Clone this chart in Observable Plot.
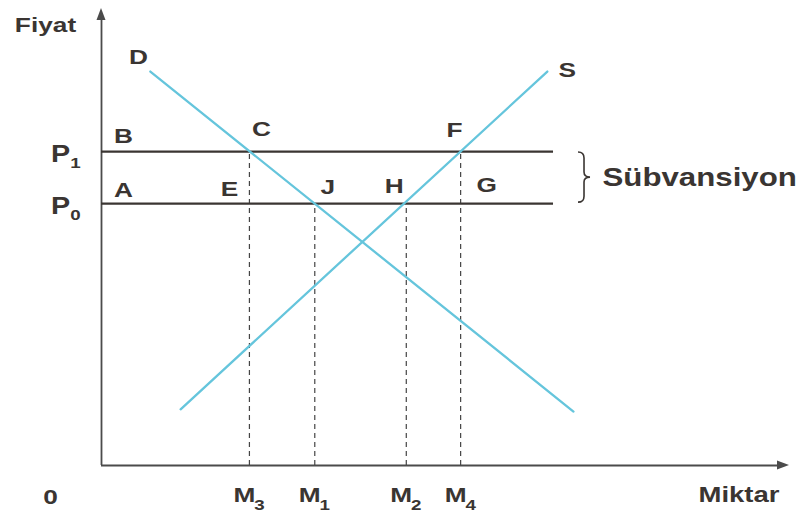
<!DOCTYPE html>
<html>
<head>
<meta charset="utf-8">
<script src="https://cdn.jsdelivr.net/npm/d3@7"></script>
<script src="https://cdn.jsdelivr.net/npm/@observablehq/plot@0.6"></script>
<style>
  html, body { margin: 0; padding: 0; background: #fff; }
  #chart svg { display: block; }
</style>
</head>
<body>
<div id="chart"></div>
<script>
// Price levels: P1 (subsidised producer price) and P0 (market price)
const priceNames = ["P", "P"];
const priceSubs = ["1", "0"];
const priceLevels = [68.7, 57.3];
const priceLineEnd = 65.7;

// Demand (D) and supply (S) lines, end points
const demandX = [7.1, 68.6];
const demandY = [86.2, 11.8];
const supplyX = [11.5, 64.8];
const supplyY = [12.3, 86.2];

// Quantities read at the crossings, with the price each dashed guide rises to
const quantitySubs = ["3", "1", "2", "4"];
const quantityValues = [21.5, 31, 44.3, 52.2];
const quantityPrices = [68.7, 57.3, 57.3, 68.7];

// Point letters and the quantity / price they sit at
const pointNames = ["B", "C", "F", "A", "E", "J", "H", "G"];
const pointX = [0, 21.5, 52.2, 0, 21.5, 31, 44.3, 52.2];
const pointY = [68.7, 68.7, 68.7, 57.3, 57.3, 57.3, 57.3, 57.3];

const axisTitles = ["Fiyat", "Miktar"];
const originLabel = "0";
const bandLabel = "Sübvansiyon";

const ink = "#3a3532";
const axisInk = "#4b4b4b";
const curveInk = "#65c5dc";
const font = "'Liberation Sans', Arial, Helvetica, sans-serif";

const demand = demandX.map((x, i) => ({x, y: demandY[i]}));
const supply = supplyX.map((x, i) => ({x, y: supplyY[i]}));
const prices = priceLevels.map((v, i) => ({name: priceNames[i], sub: priceSubs[i], value: v}));
const quantities = quantityValues.map((v, i) => ({sub: quantitySubs[i], value: v, price: quantityPrices[i]}));
const points = pointNames.map((n, i) => ({name: n, x: pointX[i], y: pointY[i]}));

// offsets of each point letter from its crossing
const pointOffset = {
  B: [22, -15], C: [12, -22], F: [-6, -21],
  A: [22, -13], E: [-20, -14], J: [13, -16], H: [-12, -17], G: [26, -18]
};

const letter = {fill: ink, fontWeight: "bold", fontSize: 21, fontFamily: font};

// axis arrowheads and the brace that spans the subsidy band
function decorations(index, scales) {
  const {x, y} = scales;
  const g = d3.create("svg:g");
  const x0 = x(0), y0 = y(0), xEnd = x(100), yTop = y(100);
  g.append("path").attr("d", `M${x0},${yTop} l-4.5,12 h9 z`).attr("fill", axisInk);
  g.append("path").attr("d", `M${xEnd},${y0} l-12,-4.5 v9 z`).attr("fill", axisInk);
  const bx = x(priceLineEnd) + 25;
  const top = y(priceLevels[0]) + 1, bot = y(priceLevels[1]) - 1, mid = (top + bot) / 2;
  g.append("path")
    .attr("d", `M${bx},${top} Q${bx + 6},${top} ${bx + 6},${top + 6} V${mid - 5} Q${bx + 6},${mid} ${bx + 12},${mid} Q${bx + 6},${mid} ${bx + 6},${mid + 5} V${bot - 6} Q${bx + 6},${bot} ${bx},${bot}`)
    .attr("fill", "none").attr("stroke", ink).attr("stroke-width", 1.6);
  return g.node();
}

const chart = Plot.plot({
  width: 805,
  height: 518,
  marginLeft: 101,
  marginRight: 16,
  marginTop: 8,
  marginBottom: 53,
  style: {background: "#fff", fontFamily: font},
  x: {domain: [0, 100], axis: null},
  y: {domain: [0, 100], axis: null},
  marks: [
    // axes
    Plot.ruleX([0], {y1: 0, y2: 98, stroke: axisInk, strokeWidth: 1.8}),
    Plot.ruleY([0], {x1: 0, x2: 98.5, stroke: axisInk, strokeWidth: 1.8}),
    // dashed guides down to the quantity axis
    Plot.ruleX(quantities, {x: "value", y1: 0, y2: "price", stroke: "#444", strokeWidth: 1.2, strokeDasharray: "5,4"}),
    // price lines
    Plot.ruleY(prices, {y: "value", x1: 0, x2: priceLineEnd, stroke: ink, strokeWidth: 2.3}),
    // demand and supply
    Plot.line(demand, {x: "x", y: "y", stroke: curveInk, strokeWidth: 2.3}),
    Plot.line(supply, {x: "x", y: "y", stroke: curveInk, strokeWidth: 2.3}),
    decorations,
    // curve letters
    Plot.text([demand[0]], {x: "x", y: "y", text: () => "D", dx: -12, dy: -14, ...letter}),
    Plot.text([supply[1]], {x: "x", y: "y", text: () => "S", dx: 20, dy: -1, ...letter}),
    // crossing letters
    ...points.map(p => Plot.text([p], {x: "x", y: "y", text: "name", dx: pointOffset[p.name][0], dy: pointOffset[p.name][1], ...letter})),
    // price labels with subscripts
    Plot.text(prices, {x: 0, y: "value", text: "name", dx: -41, dy: 3, ...letter, fontSize: 23}),
    Plot.text(prices, {x: 0, y: "value", text: "sub", dx: -26, dy: 12, ...letter, fontSize: 15}),
    // quantity labels with subscripts
    Plot.text(quantities, {x: "value", y: 0, text: () => "M", dx: -5, dy: 30, ...letter, fontSize: 21}),
    Plot.text(quantities, {x: "value", y: 0, text: "sub", dx: 10, dy: 40, ...letter, fontSize: 15}),
    // origin and axis titles
    Plot.text([0], {x: 0, y: 0, text: () => originLabel, dx: -51, dy: 32, ...letter}),
    Plot.text([0], {x: 0, y: 100, text: () => axisTitles[0], dx: -56, dy: 17, ...letter}),
    Plot.text([0], {x: 100, y: 0, text: () => axisTitles[1], textAnchor: "end", dx: -10, dy: 29, ...letter, fontSize: 22}),
    // subsidy band label
    Plot.text([0], {x: priceLineEnd, y: (priceLevels[0] + priceLevels[1]) / 2, text: () => bandLabel, textAnchor: "start", dx: 49, dy: 0, ...letter, fontSize: 25})
  ]
});

// widen the lettering horizontally around each anchor
chart.querySelectorAll("text").forEach(t => {
  const tr = t.getAttribute("transform") || "";
  t.setAttribute("transform", (tr + " scale(1.25,1)").trim());
});

document.getElementById("chart").append(chart);
</script>
</body>
</html>
